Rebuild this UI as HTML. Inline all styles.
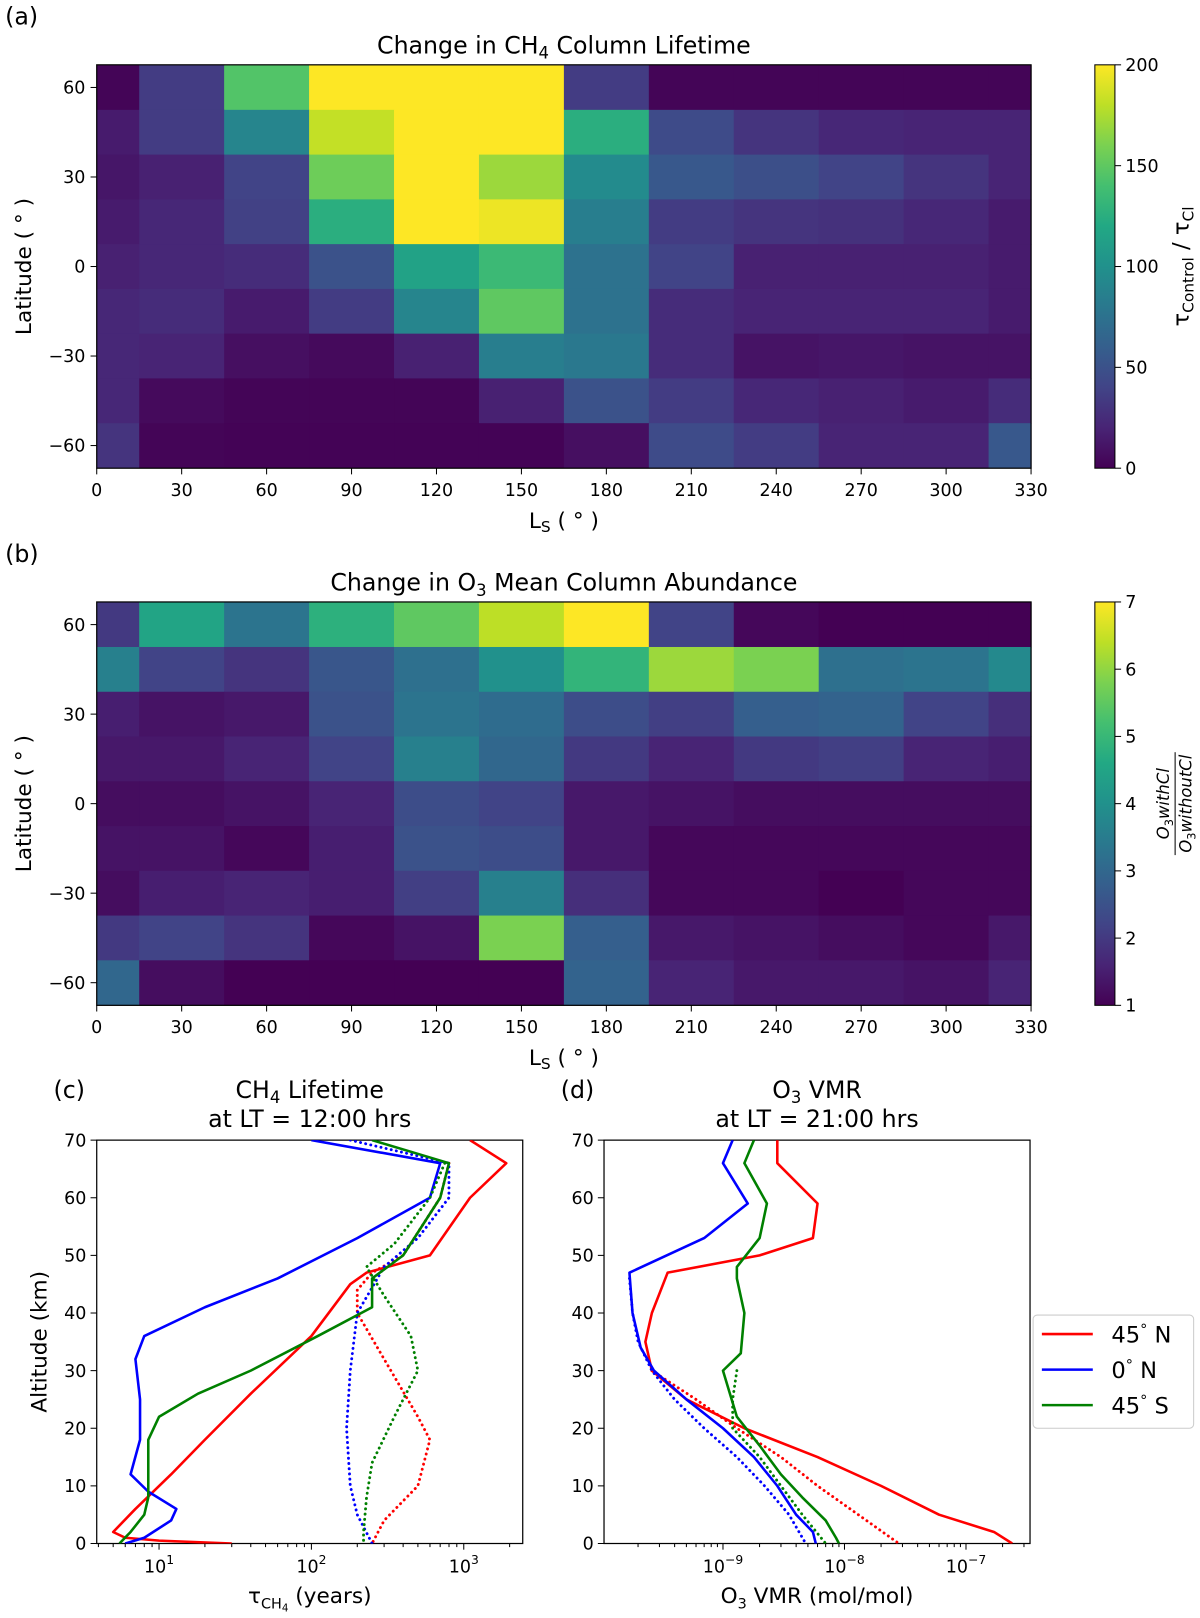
<!DOCTYPE html>
<html><head><meta charset="utf-8"><style>
body{margin:0;background:#fff}
svg text{font-family:"DejaVu Sans","Liberation Sans",sans-serif;fill:#000}
</style></head><body>
<svg id="fig" width="1200" height="1613" viewBox="0 0 1200 1613" xmlns="http://www.w3.org/2000/svg">
<defs>
<clipPath id="clipc"><rect x="94" y="1108" width="414" height="392"/></clipPath>
<clipPath id="clipd"><rect x="587" y="1108" width="414" height="392"/></clipPath>
<linearGradient id="vir" x1="0" y1="1" x2="0" y2="0">
<stop offset="0" stop-color="#440154"/><stop offset="0.1" stop-color="#482475"/><stop offset="0.2" stop-color="#414487"/><stop offset="0.3" stop-color="#355f8d"/><stop offset="0.4" stop-color="#2a788e"/><stop offset="0.5" stop-color="#21918c"/><stop offset="0.6" stop-color="#22a884"/><stop offset="0.7" stop-color="#44bf70"/><stop offset="0.8" stop-color="#7ad151"/><stop offset="0.9" stop-color="#bddf26"/><stop offset="1" stop-color="#fde725"/>
</linearGradient>
</defs>
<g id="root" transform="scale(1.029)"></g>
</svg>
<script>
// ---- data ----
const lsCats=[0,30,60,90,120,150,180,210,240,270,300,330];
const latCats=[60,45,30,15,0,-15,-30,-45,-60];
const lifeA=[
[2,35,145,200,200,200,35,2,2,2,2,2],
[15,35,90,182,200,200,125,45,30,22,20,20],
[12,18,40,155,200,170,95,55,48,40,30,20],
[15,22,38,125,200,195,85,35,30,28,22,15],
[18,22,25,50,115,135,75,40,18,18,18,15],
[22,25,15,35,90,150,75,25,20,20,20,15],
[22,20,8,5,18,85,80,25,10,12,10,10],
[22,5,2,2,2,18,50,35,22,18,15,25],
[30,2,1,1,1,1,8,45,35,20,20,55]];
const o3B=[
[2.0,4.5,3.3,4.8,5.5,6.4,7.0,2.2,1.1,1.0,1.0,1.0],
[3.6,2.2,1.9,2.6,3.2,4.0,4.9,6.1,5.8,3.2,3.3,3.8],
[1.5,1.3,1.4,2.5,3.3,3.1,2.4,2.1,2.8,2.9,2.2,1.8],
[1.4,1.4,1.6,2.2,3.6,3.0,2.0,1.6,2.0,2.1,1.6,1.5],
[1.2,1.2,1.3,1.6,2.4,2.2,1.4,1.3,1.2,1.2,1.2,1.2],
[1.3,1.3,1.1,1.5,2.5,2.4,1.4,1.1,1.1,1.1,1.1,1.1],
[1.2,1.5,1.6,1.5,2.1,3.6,1.8,1.1,1.1,1.0,1.1,1.1],
[2.0,2.2,1.9,1.1,1.3,5.8,2.8,1.4,1.3,1.2,1.1,1.4],
[3.0,1.2,1.0,1.0,1.0,1.0,2.9,1.6,1.4,1.4,1.3,1.6]];
const lsTicks=[0,30,60,90,120,150,180,210,240,270,300,330];
const latTicks=[60,30,0,-30,-60];
const cbTicksA=[0,50,100,150,200];
const cbTicksB=[1,2,3,4,5,6,7];
const cRedSolid=[[1100,70],[1900,66],[1100,60],[600,50],[230,47],[180,45],[100,36],[40,26],[20,18],[12,12],[7,6],[5,2],[6,1],[10,0.5],[30,0]];
const cRedDot=[[800,66],[700,60],[400,50],[250,47],[200,44],[200,40],[300,32],[500,22],[600,18],[500,10],[300,4],[250,0]];
const cBlueSolid=[[100,70],[700,66],[600,60],[200,53],[60,46],[20,41],[8,36],[7,32],[7.5,25],[7.5,18],[6.5,12],[8.5,9],[13,6],[12,4],[8,1],[6,0]];
const cBlueDot=[[180,70],[800,66],[800,60],[500,53],[300,48],[200,40],[180,30],[170,20],[180,10],[200,5],[250,0]];
const cGreenSolid=[[250,70],[800,66],[700,60],[400,50],[250,46],[250,41],[110,36],[40,30],[18,26],[10,22],[8.5,18],[8.5,10],[8.5,8],[8,5],[6.5,2],[5.5,0]];
const cGreenDot=[[750,66],[600,60],[350,52],[230,48],[300,43],[450,36],[500,30],[350,22],[250,14],[230,8],[220,2],[220,0]];
const dRedSolid=[[2.8e-9,70],[2.8e-9,66],[6e-9,59],[5.5e-9,53],[2e-9,50],[3.5e-10,47],[2.6e-10,40],[2.3e-10,35],[2.6e-10,30],[5e-10,25],[1.5e-9,20],[6e-9,15],[2e-8,10],[6e-8,5],[1.7e-7,2],[2.4e-7,0]];
const dRedDot=[[2.6e-10,30],[6e-10,25],[1.3e-9,20],[3e-9,15],[6e-9,10],[1.3e-8,5],[2.8e-8,0]];
const dBlueSolid=[[1.2e-9,70],[1.0e-9,66],[1.6e-9,59],[7e-10,53],[1.7e-10,47],[1.8e-10,40],[2.1e-10,34],[2.7e-10,30],[5e-10,25],[1e-9,20],[1.8e-9,15],[2.8e-9,10],[4e-9,5],[5.5e-9,2],[5.8e-9,0]];
const dBlueDot=[[1.7e-10,46],[1.8e-10,40],[2e-10,35],[2.6e-10,30],[4e-10,25],[7e-10,20],[1.3e-9,15],[2.2e-9,10],[3.5e-9,5],[4.8e-9,0]];
const dGreenSolid=[[1.8e-9,70],[1.5e-9,66],[2.3e-9,59],[2e-9,53],[1.3e-9,48],[1.3e-9,46],[1.5e-9,40],[1.4e-9,33],[1.0e-9,30],[1.3e-9,22],[2e-9,17],[3e-9,12],[4.5e-9,8],[7e-9,4],[8.5e-9,1],[9e-9,0]];
const dGreenDot=[[1.3e-9,30],[1.2e-9,25],[1.2e-9,20],[2e-9,15],[3e-9,10],[4.5e-9,5],[7e-9,0]];
const altTicks=[0,10,20,30,40,50,60,70];

const svg=document.getElementById('root');
const NS='http://www.w3.org/2000/svg';
function mk(tag,attrs,parent){const e=document.createElementNS(NS,tag);for(const k in attrs)e.setAttribute(k,attrs[k]);(parent||svg).appendChild(e);return e;}
function txt(x,y,s,size,anchor,parent){const t=mk('text',{x:x,y:y,'font-size':size,'text-anchor':anchor||'middle'},parent);t.textContent=s;return t;}
const VC=[[68,1,84],[72,36,117],[65,68,135],[53,95,141],[42,120,142],[33,145,140],[34,168,132],[68,191,112],[122,209,81],[189,223,38],[253,231,37]];
function viridis(t){t=Math.max(0,Math.min(1,t));const f=t*10,i=Math.min(9,Math.floor(f)),r=f-i;const a=VC[i],b=VC[i+1];return 'rgb('+a.map((v,k)=>Math.round(v+(b[k]-v)*r)).join(',')+')';}

const X0=94,X1=1002;
const xs=v=>X0+(v)*(X1-X0)/330;
const CBX=1064,CBW=19.5;
function heat(top,data,vmin,vmax,name){
  const ys=lat=>top+22+(60-lat)*2.9;
  const g=mk('g',{});
  
  
  data.forEach((row,ri)=>row.forEach((v,ci)=>{
    const l=Math.max(0,lsCats[ci]-15),r=Math.min(330,lsCats[ci]+15);
    const la=latCats[ri];
    const y1=ys(la+7.5),y2=ys(la-7.5);
    const c=mk('rect',{x:xs(l),y:y1,width:xs(r)-xs(l)+0.5,height:y2-y1+0.5,fill:viridis((v-vmin)/(vmax-vmin))},g);
    
    
  }));
  const bottom=top+392;
  const fr=mk('rect',{x:X0,y:top,width:X1-X0,height:392,fill:'none',stroke:'#000','stroke-width':1.2});
  
  
  lsTicks.forEach(v=>{mk('line',{x1:xs(v),x2:xs(v),y1:bottom,y2:bottom+6,stroke:'#000'});txt(xs(v),bottom+27,String(v),17);});
  latTicks.forEach(v=>{mk('line',{x1:X0-6,x2:X0,y1:ys(v),y2:ys(v),stroke:'#000'});txt(X0-11,ys(v)+6,String(v).replace('-','\u2212'),17,'end');});
  const xl=txt(548,bottom+58,'',21);xl.innerHTML='L<tspan font-size="15" dy="4">S</tspan><tspan dy="-4"> ( ° )</tspan>';
  
  const yl=txt(0,0,'Latitude ( ° )',21);yl.setAttribute('transform','translate(30,'+(top+196)+') rotate(-90)');
  
}
function cbar(top,ticks,vmin,vmax,name){
  const r=mk('rect',{x:CBX,y:top,width:CBW,height:392,fill:'url(#vir)',stroke:'#000','stroke-width':1});
  
  
  ticks.forEach(v=>{const y=top+392-(v-vmin)/(vmax-vmin)*392;mk('line',{x1:CBX+CBW,x2:CBX+CBW+6,y1:y,y2:y,stroke:'#000'});txt(CBX+CBW+10,y+6,String(v),17,'start');});
}
txt(5,24,'(a)',23,'start');
const ta=txt(548,52,'',23);ta.innerHTML='Change in CH<tspan font-size="16" dy="5">4</tspan><tspan dy="-5"> Column Lifetime</tspan>';

heat(63,lifeA,0,200,'heatmap-ch4-lifetime');
cbar(63,cbTicksA,0,200,'colorbar-a');
const cla=txt(0,0,'',22);cla.innerHTML='τ<tspan font-size="15" dy="5">Control</tspan><tspan dy="-5"> / τ</tspan><tspan font-size="15" dy="5">Cl</tspan>';
cla.setAttribute('transform','translate(1155,259) rotate(-90)');

txt(5,546,'(b)',23,'start');
const tb=txt(548,574,'',23);tb.innerHTML='Change in O<tspan font-size="16" dy="5">3</tspan><tspan dy="-5"> Mean Column Abundance</tspan>';

heat(585,o3B,1,7,'heatmap-o3-abundance');
cbar(585,cbTicksB,1,7,'colorbar-b');
const cg=mk('g',{transform:'translate(1142,781) rotate(-90)'});


const n1=txt(0,-6,'',16,'middle',cg);n1.innerHTML='<tspan font-style="italic">O</tspan><tspan font-size="11" dy="4">3</tspan><tspan dy="-4" font-style="italic">withCl</tspan>';
mk('line',{x1:-50,x2:50,y1:0,y2:0,stroke:'#000','stroke-width':1},cg);
const n2=txt(0,16,'',16,'middle',cg);n2.innerHTML='<tspan font-style="italic">O</tspan><tspan font-size="11" dy="4">3</tspan><tspan dy="-4" font-style="italic">withoutCl</tspan>';

const PY0=1108,PY1=1500;
const ay=a=>PY1-a*(PY1-PY0)/70;
function profAxes(xl,xr,lmin,lmax,majors,name){
  const lx=v=>xl+(Math.log10(v)-lmin)/(lmax-lmin)*(xr-xl);
  const fr=mk('rect',{x:xl,y:PY0,width:xr-xl,height:PY1-PY0,fill:'none',stroke:'#000','stroke-width':1.2});
  
  
  for(let d=Math.floor(lmin);d<=Math.ceil(lmax);d++){for(let m=1;m<10;m++){const v=m*Math.pow(10,d);const L=Math.log10(v);if(L<lmin||L>lmax)continue;const x=lx(v);mk('line',{x1:x,x2:x,y1:PY1,y2:PY1+(m===1?6:3.5),stroke:'#000'});}}
  majors.forEach(e=>{const t=txt(lx(Math.pow(10,e)),PY1+28,'',17);t.innerHTML='10<tspan font-size="12" dy="-8">'+String(e).replace('-','\u2212')+'</tspan>';});
  altTicks.forEach(a=>{mk('line',{x1:xl-6,x2:xl,y1:ay(a),y2:ay(a),stroke:'#000'});txt(xl-10,ay(a)+6,String(a),17,'end');});
  return lx;
}
function series(pts,lx,color,dotted,clip,name){
  const d=pts.map((p,i)=>(i?'L':'M')+lx(p[0]).toFixed(1)+','+ay(p[1]).toFixed(1)).join(' ');
  const a={d:d,fill:'none',stroke:color,'stroke-width':2.5,'clip-path':'url(#'+clip+')','stroke-linejoin':'round'};
  if(dotted){a['stroke-dasharray']='0.1,5';a['stroke-linecap']='round';a['stroke-width']=2.8;}
  const p=mk('path',a);
  
  
}
const R='#f00',B='#00f',G='#008000';
const CX0=94,CX1=508,DX0=587,DX1=1001;
txt(52,1067,'(c)',23,'start');
const tc=txt((CX0+CX1)/2,1067,'',23);tc.innerHTML='CH<tspan font-size="16" dy="5">4</tspan><tspan dy="-5"> Lifetime</tspan>';

txt((CX0+CX1)/2,1095,'at LT = 12:00 hrs',23);
const lxc=profAxes(CX0,CX1,0.591,3.387,[1,2,3],'panel-c');
series(cRedSolid,lxc,R,false,'clipc','line-c-45n');series(cRedDot,lxc,R,true,'clipc','line-c-45n-dotted');
series(cBlueSolid,lxc,B,false,'clipc','line-c-0n');series(cBlueDot,lxc,B,true,'clipc','line-c-0n-dotted');
series(cGreenSolid,lxc,G,false,'clipc','line-c-45s');series(cGreenDot,lxc,G,true,'clipc','line-c-45s-dotted');
const xc=txt((CX0+CX1)/2,1558,'',21);xc.innerHTML='τ<tspan font-size="14" dy="5">CH</tspan><tspan font-size="10" dy="3">4</tspan><tspan dy="-8"> (years)</tspan>';

const yc=txt(0,0,'Altitude (km)',21);yc.setAttribute('transform','translate(45,1304) rotate(-90)');

txt(545,1067,'(d)',23,'start');
const td=txt((DX0+DX1)/2,1067,'',23);td.innerHTML='O<tspan font-size="16" dy="5">3</tspan><tspan dy="-5"> VMR</tspan>';

txt((DX0+DX1)/2,1095,'at LT = 21:00 hrs',23);
const lxd=profAxes(DX0,DX1,-9.979,-6.473,[-9,-8,-7],'panel-d');
series(dRedSolid,lxd,R,false,'clipd','line-d-45n');series(dRedDot,lxd,R,true,'clipd','line-d-45n-dotted');
series(dBlueSolid,lxd,B,false,'clipd','line-d-0n');series(dBlueDot,lxd,B,true,'clipd','line-d-0n-dotted');
series(dGreenSolid,lxd,G,false,'clipd','line-d-45s');series(dGreenDot,lxd,G,true,'clipd','line-d-45s-dotted');
const xd=txt((DX0+DX1)/2,1558,'',21);xd.innerHTML='O<tspan font-size="14" dy="5">3</tspan><tspan dy="-5"> VMR (mol/mol)</tspan>';

const lg=mk('g',{});


mk('rect',{x:1004,y:1278,width:156,height:110,rx:4,fill:'#fff',stroke:'#ccc','stroke-width':1},lg);
[['45','N',R],['0','N',B],['45','S',G]].forEach((e,i)=>{
  const y=1296.5+i*34.5;
  const ln=mk('line',{x1:1012.5,x2:1062,y1:y,y2:y,stroke:e[2],'stroke-width':2.5},lg);
  
  const t=txt(1080,y+8,'',22,'start',lg);
  t.innerHTML=e[0]+'<tspan font-size="14" dy="-8">°</tspan><tspan dy="8"> '+e[1]+'</tspan>';
  
});
</script>
</body></html>
